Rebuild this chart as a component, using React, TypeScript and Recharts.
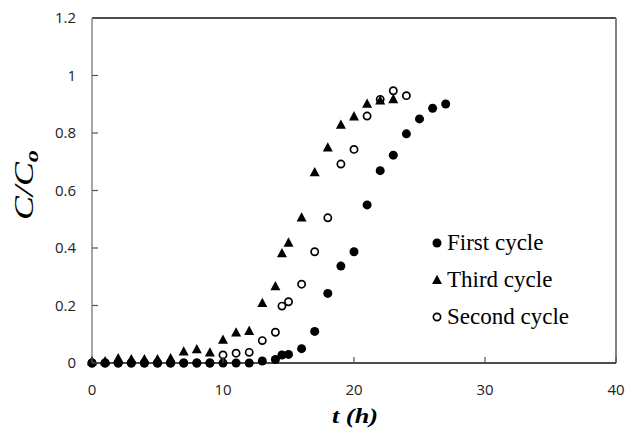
import React from 'react';
import { ScatterChart, Scatter, XAxis, YAxis, ReferenceLine } from 'recharts';

// Tick labels
const xTicks = [0, 10, 20, 30, 40];
const yTicks = [0, 0.2, 0.4, 0.6, 0.8, 1, 1.2];

// First cycle
const firstT = [0, 1, 2, 3, 4, 5, 6, 7, 8, 9, 10, 11, 12, 13, 14, 14.5, 15, 16, 17, 18, 19, 20, 21, 22, 23, 24, 25, 26, 27];
const firstC = [0, 0, 0, 0, 0, 0, 0, 0, 0, 0, 0, 0, 0, 0.007, 0.012, 0.028, 0.03, 0.05, 0.11, 0.242, 0.337, 0.387, 0.55, 0.669, 0.723, 0.797, 0.849, 0.886, 0.901];

// Third cycle
const thirdT = [0, 1, 2, 3, 4, 5, 6, 7, 8, 9, 10, 11, 12, 13, 14, 14.5, 15, 16, 17, 18, 19, 20, 21, 22, 23];
const thirdC = [0.005, 0.005, 0.016, 0.012, 0.012, 0.012, 0.016, 0.039, 0.047, 0.036, 0.08, 0.105, 0.111, 0.208, 0.266, 0.381, 0.418, 0.505, 0.663, 0.749, 0.828, 0.857, 0.901, 0.912, 0.917];

// Second cycle
const secondT = [0, 1, 2, 3, 4, 5, 6, 7, 8, 9, 10, 11, 12, 13, 14, 14.5, 15, 16, 17, 18, 19, 20, 21, 22, 23, 24];
const secondC = [0, 0, 0, 0, 0, 0, 0, 0, 0, 0, 0.028, 0.034, 0.037, 0.078, 0.107, 0.198, 0.213, 0.274, 0.387, 0.505, 0.692, 0.743, 0.859, 0.917, 0.947, 0.93];

const legendNames = ['First cycle', 'Third cycle', 'Second cycle'];

const toData = (ts: number[], cs: number[]) => ts.map((t, i) => ({ t, c: cs[i] }));
const firstData = toData(firstT, firstC);
const thirdData = toData(thirdT, thirdC);
const secondData = toData(secondT, secondC);

const FilledCircle = (p: any) => <circle cx={p.cx} cy={p.cy} r={4.5} fill="#000" />;
const Triangle = (p: any) => (
  <polygon
    points={`${p.cx},${p.cy - 5.5} ${p.cx - 5},${p.cy + 3.8} ${p.cx + 5},${p.cy + 3.8}`}
    fill="#000"
  />
);
const OpenCircle = (p: any) => (
  <circle cx={p.cx} cy={p.cy} r={3.6} fill="none" stroke="#000" strokeWidth={1.7} />
);

const tickFont = "'Open Sans', sans-serif";
const serif = "'Liberation Serif', 'Times New Roman', serif";

const YTick = (props: any) => {
  const { x, y, payload } = props;
  const ax = x + 16;
  return (
    <g>
      <line x1={ax} x2={ax + 6} y1={y} y2={y} stroke="#555" strokeWidth={1.2} />
      <text x={x} y={y} dy="0.36em" textAnchor="end" fontFamily={tickFont} fontSize={15} fill="#222">
        {String(payload.value)}
      </text>
    </g>
  );
};

const XTick = (props: any) => {
  const { x, y, payload } = props;
  const ay = y - 26;
  return (
    <g>
      <line x1={x} x2={x} y1={ay} y2={ay - 6} stroke="#555" strokeWidth={1.2} />
      <text x={x} y={y + 6} textAnchor="middle" fontFamily={tickFont} fontSize={15} fill="#222">
        {String(payload.value)}
      </text>
    </g>
  );
};

const LegendMarker = ({ i }: { i: number }) => (
  <svg width={12} height={12} style={{ display: 'block' }}>
    {i === 0 && <circle cx={6} cy={6} r={4.5} fill="#000" />}
    {i === 1 && <polygon points="6,0.8 1,10 11,10" fill="#000" />}
    {i === 2 && <circle cx={6} cy={6} r={3.6} fill="none" stroke="#000" strokeWidth={1.7} />}
  </svg>
);

const LegendBox = () => (
  <div
    style={{
      position: 'absolute',
      left: 431,
      top: 224,
      fontFamily: serif,
      fontSize: 23,
      color: '#000',
      lineHeight: '37px',
    }}
  >
    {legendNames.map((name, i) => (
      <div key={name} style={{ display: 'flex', alignItems: 'center', height: 37, whiteSpace: 'nowrap' }}>
        <LegendMarker i={i} />
        <span style={{ marginLeft: 4 }}>{name}</span>
      </div>
    ))}
  </div>
);

const YTitle = () => (
  <text
    x={33}
    y={185}
    transform="rotate(-90, 33, 185)"
    textAnchor="middle"
    fontFamily={serif}
    fontStyle="italic"
    fontSize={28}
    fill="#000"
    textLength={70}
    lengthAdjust="spacingAndGlyphs"
  >
    C/C
    <tspan fontWeight="bold" fontSize={19} dy={5}>o</tspan>
  </text>
);

const XTitle = () => (
  <text
    x={355}
    y={423}
    textAnchor="middle"
    fontFamily={serif}
    fontStyle="italic"
    fontWeight="bold"
    fontSize={22}
    fill="#000"
    textLength={46}
    lengthAdjust="spacingAndGlyphs"
  >
    t (h)
  </text>
);

export default function App() {
  return (
    <div style={{ position: 'absolute', left: 0, top: 0, width: 626, height: 431, background: '#fff' }}>
      <ScatterChart width={626} height={431} margin={{ top: 18, right: 10, left: 0, bottom: 0 }}>
        <XAxis
          type="number"
          dataKey="t"
          domain={[0, 40]}
          ticks={xTicks}
          height={68}
          tickLine={false}
          tickSize={0}
          tickMargin={26}
          axisLine={{ stroke: '#111', strokeWidth: 1.5 }}
          tick={<XTick />}
          interval={0}
          label={<XTitle />}
        />
        <YAxis
          type="number"
          dataKey="c"
          domain={[0, 1.2]}
          ticks={yTicks}
          width={92}
          tickLine={false}
          tickSize={0}
          tickMargin={16}
          axisLine={{ stroke: '#888', strokeWidth: 1.5 }}
          tick={<YTick />}
          interval={0}
          label={<YTitle />}
        />
        <ReferenceLine y={1.2} stroke="#111" strokeWidth={1.5} />
        <ReferenceLine x={40} stroke="#777" strokeWidth={1.8} />
        <Scatter name="Second cycle" data={secondData} shape={<OpenCircle />} isAnimationActive={false} />
        <Scatter name="Third cycle" data={thirdData} shape={<Triangle />} isAnimationActive={false} />
        <Scatter name="First cycle" data={firstData} shape={<FilledCircle />} isAnimationActive={false} />
      </ScatterChart>
      <LegendBox />
    </div>
  );
}
